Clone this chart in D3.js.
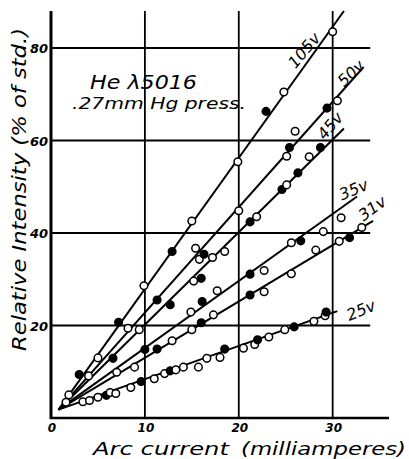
<!DOCTYPE html>
<html>
<head>
<meta charset="utf-8">
<script src="https://cdn.jsdelivr.net/npm/d3@7.9.0/dist/d3.min.js"></script>
<style>
  html, body { margin: 0; padding: 0; background: #fff; }
  svg { display: block; }
  text { font-family: "DejaVu Sans", sans-serif; font-style: italic; fill: #000; }
</style>
</head>
<body>
<svg id="chart" width="409" height="459"></svg>
<script>
// series names, one fitted line per series
const seriesNames = ['105v', '50v', '45v', '35v', '31v', '25v'];

// points: [arc current mA, relative intensity %, filled?]
const pts105 = [[1.9, 5.0, 0], [3.0, 9.4, 1], [5.0, 13.0, 0], [7.2, 20.7, 1], [9.9, 28.6, 0], [12.9, 36.0, 1],
  [15.0, 42.6, 0], [19.9, 55.4, 0], [22.9, 66.3, 1], [24.8, 70.5, 0], [30.0, 83.5, 0]];
const pts50 = [[4.0, 9.1, 0], [8.2, 19.4, 0], [11.3, 25.5, 1], [15.4, 36.7, 0], [15.8, 34.3, 0], [16.3, 35.4, 1],
  [20.0, 44.8, 0], [25.1, 56.6, 0], [25.4, 58.5, 1], [26.0, 62.0, 0], [29.4, 67.0, 1], [30.5, 68.6, 0]];
const pts45 = [[6.6, 12.9, 1], [9.4, 19.1, 0], [12.7, 24.5, 1], [15.2, 29.6, 0], [16.0, 30.2, 1], [17.2, 34.7, 0],
  [18.5, 36.0, 0], [21.2, 42.4, 1], [21.9, 43.5, 0], [24.6, 49.4, 1], [25.1, 50.4, 0], [26.3, 53.0, 1],
  [27.5, 56.5, 0], [28.7, 58.5, 1]];
const pts35 = [[1.6, 3.4, 0], [7.0, 9.9, 0], [10.0, 14.8, 1], [14.9, 22.9, 0], [16.1, 25.2, 1], [17.7, 27.5, 0],
  [21.2, 31.1, 1], [22.7, 31.9, 0], [25.6, 37.9, 0], [26.6, 38.3, 1], [29.0, 40.3, 0], [30.9, 43.3, 0]];
const pts31 = [[8.9, 11.0, 0], [11.3, 14.9, 1], [12.9, 16.7, 0], [15.0, 19.1, 0], [16.0, 20.6, 1], [17.3, 22.3, 0],
  [21.2, 26.6, 1], [22.7, 27.3, 0], [25.6, 31.2, 0], [28.2, 36.3, 0], [30.7, 38.2, 0], [31.8, 39.0, 1],
  [33.1, 41.2, 0]];
const pts25 = [[3.4, 3.5, 0], [4.1, 3.8, 0], [5.0, 4.5, 0], [5.9, 4.9, 1], [6.3, 5.5, 0], [6.9, 5.3, 0],
  [8.5, 6.6, 0], [9.6, 7.9, 1], [11.0, 8.5, 0], [12.1, 9.6, 0], [12.7, 10.2, 1], [13.3, 10.4, 0],
  [14.1, 11.0, 0], [15.7, 11.0, 0], [16.6, 12.9, 0], [18.0, 13.1, 0], [18.5, 14.9, 1], [20.5, 15.1, 0],
  [21.7, 15.9, 0], [22.0, 16.9, 1], [23.2, 17.5, 0], [24.9, 19.1, 0], [25.9, 19.7, 1], [28.0, 20.9, 0],
  [29.2, 22.1, 0], [29.3, 22.9, 1]];

// fitted lines all start from a common point near the origin
const lineStart = [0.8, 1.8];
const lineEnds = [[31.2, 88], [33.3, 75.9], [31.2, 62.6], [32.6, 47.9], [34.3, 42.6], [30.5, 23.1]];

const xTicks = [0, 10, 20, 30];
const yTicks = [20, 40, 60, 80];

const svg = d3.select('#chart');
const x = d3.scaleLinear().domain([0, 36]).range([51, 389]);
const y = d3.scaleLinear().domain([0, 88]).range([418, 11]);

// grid
svg.append('g').selectAll('line').data(yTicks).join('line')
  .attr('x1', x(0)).attr('x2', x(34))
  .attr('y1', d => y(d)).attr('y2', d => y(d))
  .attr('stroke', '#000').attr('stroke-width', 1.8);
svg.append('g').selectAll('line').data(xTicks.filter(d => d > 0)).join('line')
  .attr('x1', d => x(d)).attr('x2', d => x(d))
  .attr('y1', y(0)).attr('y2', y(88))
  .attr('stroke', '#000').attr('stroke-width', 1.8);

// axes
svg.append('line').attr('x1', x(0)).attr('x2', x(0)).attr('y1', y(0) + 1).attr('y2', y(88))
  .attr('stroke', '#000').attr('stroke-width', 3);
svg.append('line').attr('x1', x(0) - 1).attr('x2', x(36)).attr('y1', y(0)).attr('y2', y(0))
  .attr('stroke', '#000').attr('stroke-width', 2.5);

// tick labels
svg.append('g').selectAll('text').data(xTicks).join('text')
  .attr('x', d => x(d) + 1).attr('y', 432)
  .attr('text-anchor', 'middle').attr('font-size', 12).attr('font-weight', 'bold')
  .text(d => d);
svg.append('g').selectAll('text').data(yTicks).join('text')
  .attr('x', 48).attr('y', d => y(d) + 5)
  .attr('text-anchor', 'end').attr('font-size', 13).attr('font-weight', 'bold')
  .text(d => d);

// axis titles
svg.append('text').attr('x', 93).attr('y', 455).attr('font-size', 18)
  .attr('textLength', 136).attr('lengthAdjust', 'spacingAndGlyphs').text('Arc current');
svg.append('text').attr('x', 241).attr('y', 455).attr('font-size', 18)
  .attr('textLength', 165).attr('lengthAdjust', 'spacingAndGlyphs').text('(milliamperes)');
svg.append('text').attr('transform', 'translate(26,351) rotate(-90)').attr('font-size', 20)
  .attr('textLength', 323).attr('lengthAdjust', 'spacingAndGlyphs')
  .text('Relative Intensity (% of std.)');

// annotation
svg.append('text').attr('x', 90).attr('y', 89).attr('font-size', 19)
  .attr('textLength', 107).attr('lengthAdjust', 'spacingAndGlyphs').text('He λ5016');
svg.append('text').attr('x', 72).attr('y', 109).attr('font-size', 15)
  .attr('textLength', 174).attr('lengthAdjust', 'spacingAndGlyphs').text('.27mm Hg press.');

// fitted lines
svg.append('g').selectAll('line').data(lineEnds).join('line')
  .attr('x1', x(lineStart[0])).attr('y1', y(lineStart[1]))
  .attr('x2', d => x(d[0])).attr('y2', d => y(d[1]))
  .attr('stroke', '#000').attr('stroke-width', 2);

// points
const allPts = [pts105, pts50, pts45, pts35, pts31, pts25];
allPts.forEach((pts, i) => {
  svg.append('g').attr('class', 's' + i).selectAll('circle').data(pts).join('circle')
    .attr('cx', d => x(d[0])).attr('cy', d => y(d[1])).attr('r', 3.8)
    .attr('fill', d => d[2] ? '#000' : '#fff')
    .attr('stroke', '#000').attr('stroke-width', 1.5);
});

// line labels: offset from line end (px) and rotation
const labelOffsets = [[-39, 40, -50], [-12, 7, -44], [-13, -2, -50], [-3, -6, -23], [0, -12, -36], [24, 0, -22]];
svg.append('g').selectAll('text').data(seriesNames).join('text')
  .attr('transform', (d, i) => {
    const e = lineEnds[i], o = labelOffsets[i];
    return `translate(${x(e[0]) + o[0]},${y(e[1]) + o[1]}) rotate(${o[2]})`;
  })
  .attr('text-anchor', 'middle').attr('dominant-baseline', 'middle')
  .attr('font-size', 16)
  .text(d => d);
</script>
</body>
</html>
